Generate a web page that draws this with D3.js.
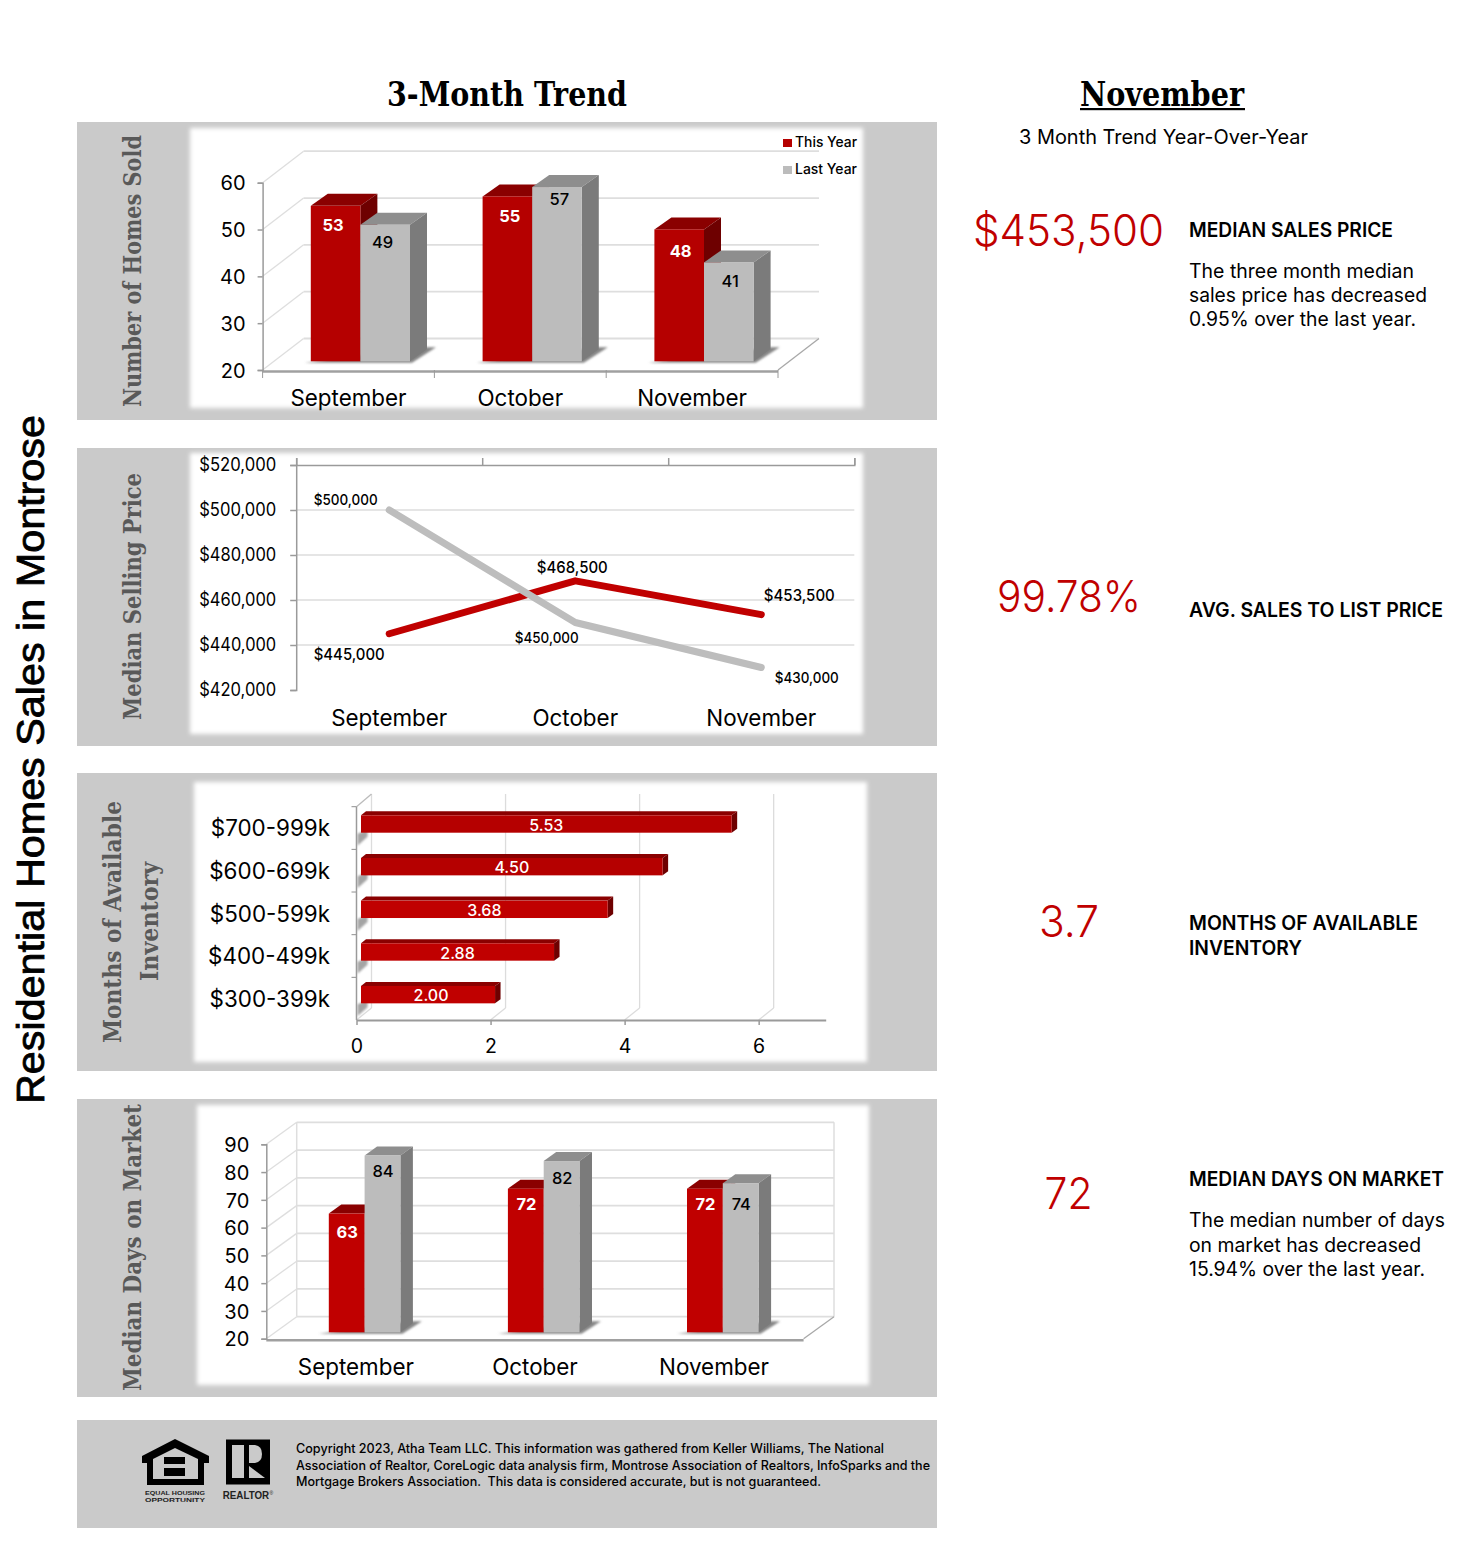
<!DOCTYPE html>
<html><head><meta charset="utf-8">
<script src="https://cdn.jsdelivr.net/npm/d3@7"></script>
<style>html,body{margin:0;padding:0;background:#fff}svg{display:block}text{white-space:pre}</style></head>
<body><svg id="c" width="1476" height="1558"></svg>
<script>
const months=["September","October","November"];
const soldThisYear=[53,55,48], soldLastYear=[49,57,41];
const soldTicks=[20,30,40,50,60];
const priceThisYear=[445000,468500,453500], priceLastYear=[500000,450000,430000];
const priceTicks=[420000,440000,460000,480000,500000,520000];
const inventoryBands=["$700-999k","$600-699k","$500-599k","$400-499k","$300-399k"];
const inventoryMonths=[5.53,4.50,3.68,2.88,2.00];
const inventoryTicks=[0,2,4,6];
const domThisYear=[63,72,72], domLastYear=[84,82,74];
const domTicks=[20,30,40,50,60,70,80,90];
const legendNames=["This Year","Last Year"];
const footerLines=["Copyright 2023, Atha Team LLC. This information was gathered from Keller Williams, The National",
"Association of Realtor, CoreLogic data analysis firm, Montrose Association of Realtors, InfoSparks and the",
"Mortgage Brokers Association.  This data is considered accurate, but is not guaranteed."];

const RED="#b50000",RED2="#c00000",GREY="#bcbcbc",SANS="Inter,'Noto Sans',sans-serif",SERIF="'DejaVu Serif',serif";
const svg=d3.select("#c");
const defs=svg.append("defs");
defs.append("filter").attr("id","soft").attr("x","-5%").attr("y","-5%").attr("width","110%").attr("height","110%")
  .append("feGaussianBlur").attr("stdDeviation",2.2);
defs.append("filter").attr("id","shadow").attr("x","-30%").attr("y","-100%").attr("width","160%").attr("height","300%")
  .append("feGaussianBlur").attr("stdDeviation",1.2);

function txt(g,x,y,s,o={}){
  const t=g.append("text").attr("x",x).attr("y",y).text(s)
    .attr("font-family",o.family||SANS).attr("font-size",o.size||16).attr("font-weight",o.weight||400)
    .attr("fill",o.fill||"#000").attr("text-anchor",o.anchor||"start");
  if(o.width) t.attr("textLength",o.width).attr("lengthAdjust","spacingAndGlyphs");
  if(o.rotate) t.attr("transform",`rotate(${o.rotate} ${x} ${y})`);
  return t;
}
function poly(g,pts,fill,extra){const p=g.append("polygon").attr("points",pts.map(d=>d.join(",")).join(" ")).attr("fill",fill);if(extra)p.attr("filter",extra);return p;}

// panels
const panels=[[122,298,190,128,673,280],[448,298,190,453,673,281],[773,298,194,782,673,280],[1099,298,197,1105,672,280]];
panels.forEach(p=>{
  svg.append("rect").attr("x",77).attr("y",p[0]).attr("width",860).attr("height",p[1]).attr("fill","#cacaca");
  svg.append("rect").attr("x",p[2]).attr("y",p[3]).attr("width",p[4]).attr("height",p[5]).attr("fill","#fff").attr("filter","url(#soft)");
});
svg.append("rect").attr("x",77).attr("y",1420).attr("width",860).attr("height",108).attr("fill","#cacaca");

// headings
txt(svg,507,106,"3-Month Trend",{family:SERIF,size:34,weight:700,anchor:"middle",width:240});
txt(svg,1162,106,"November",{family:SERIF,size:34,weight:700,anchor:"middle",width:164});
svg.append("rect").attr("x",1080).attr("y",108).attr("width",165).attr("height",2.2).attr("fill","#000");
txt(svg,1019,144,"3 Month Trend Year-Over-Year",{size:20,width:289});
txt(svg,44,1104,"Residential Homes Sales in Montrose",{family:"'Liberation Sans',sans-serif",size:39,weight:400,rotate:-90,width:689}).attr("stroke","#000").attr("stroke-width",.8);

// axis titles
const TT={family:SERIF,size:25,weight:700,fill:"#595959",rotate:-90};
txt(svg,141,407,"Number of Homes Sold",{...TT,width:272});
txt(svg,141,720,"Median Selling Price",{...TT,width:247});
txt(svg,121,1043,"Months of Available",{...TT,width:242});
txt(svg,158,981,"Inventory",{...TT,width:119});
txt(svg,141,1391,"Median Days on Market",{...TT,width:287});

function styleAxis(a,size,color){
  a.selectAll("text").attr("font-family",SANS).attr("font-size",size).attr("fill","#000");
  a.selectAll("line,path").attr("stroke",color||"#9a9a9a").attr("stroke-width",1.5);
}

// 3D column chart
function columns(o){
  const g=svg.append("g");
  const x=d3.scaleBand().domain(months).range([o.x0,o.x1]);
  const y=d3.scaleLinear().domain(o.dom).range([o.yBase,o.yTop]);
  const yb=d3.scaleLinear().domain(o.dom).range([o.barBase,o.barBase-(o.dom[1]-o.dom[0])*o.barUnit]);
  const [dx,dy]=o.depth, W="#dedede";
  o.ticks.forEach(t=>{
    const yy=y(t);
    g.append("line").attr("x1",o.x0).attr("y1",yy).attr("x2",o.x0+dx).attr("y2",yy+dy).attr("stroke",W).attr("stroke-width",1.3);
    g.append("line").attr("x1",o.x0+dx).attr("y1",yy+dy).attr("x2",o.x1+dx).attr("y2",yy+dy).attr("stroke",W).attr("stroke-width",1.8);
  });
  if(o.frame){
    g.append("line").attr("x1",o.x0+dx).attr("y1",y(o.dom[1])+dy).attr("x2",o.x0+dx).attr("y2",y(o.dom[0])+dy).attr("stroke",W).attr("stroke-width",1.5);
    g.append("line").attr("x1",o.x1+dx).attr("y1",y(o.dom[1])+dy).attr("x2",o.x1+dx).attr("y2",y(o.dom[0])+dy).attr("stroke",W).attr("stroke-width",1.5);
  }
  g.append("line").attr("x1",o.x1).attr("y1",y(o.dom[0])).attr("x2",o.x1+dx).attr("y2",y(o.dom[0])+dy).attr("stroke","#a8a8a8").attr("stroke-width",1.3);
  g.append("line").attr("x1",o.x0).attr("y1",y(o.dom[0])+1.5).attr("x2",o.x1).attr("y2",y(o.dom[0])+1.5).attr("stroke","#a0a0a0").attr("stroke-width",2.5);
  const ax=g.append("g").attr("transform",`translate(${o.x0},0)`).call(d3.axisLeft(y).tickValues(o.ticks).tickSize(5).tickPadding(o.pad).tickFormat(d3.format("d")));
  styleAxis(ax,o.tickSize);
  ax.selectAll("text").attr("dy",".36em");
  if(o.catTicks) x.domain().concat(["end"]).forEach((m,i)=>{const xx=o.x0+i*x.bandwidth();
    g.append("line").attr("x1",xx).attr("y1",y(o.dom[0])).attr("x2",xx).attr("y2",y(o.dom[0])+8).attr("stroke","#9a9a9a").attr("stroke-width",1);});
  months.forEach((m,i)=>{
    const bx=x(m)+o.barOff, w=o.barW, [bdx,bdy]=o.barDepth, base=o.barBase;
    poly(g,[[bx-o.shadow,base+1.5],[bx+2*w+2,base+1.5],[bx+2*w+bdx+9,base+bdy-2],[bx+2*w+bdx,base+bdy-2]],"#858585","url(#shadow)");
    [[o.a[i],o.cols[0],0],[o.b[i],o.cols[1],1]].forEach(([v,c,k])=>{
      const l=bx+k*w,t=yb(v);
      poly(g,[[l,t],[l+bdx,t+bdy],[l+w+bdx,t+bdy],[l+w,t]],c.top);
      poly(g,[[l+w,t],[l+w+bdx,t+bdy],[l+w+bdx,base+bdy],[l+w,base]],c.side);
      g.append("rect").attr("x",l).attr("y",t).attr("width",w).attr("height",yb(o.dom[0])-t).attr("fill",c.front);
    });
    [[o.a[i],"#fff",0,700],[o.b[i],"#000",1,500]].forEach(([v,f,k,wt])=>{
      const off=(o.labelOff&&o.labelOff[v])||o.labelDy;
      txt(g,bx+k*w+o.labelX+(o.labelShift?o.labelShift[i]:0),yb(v)+off+6,v,{size:o.labelSize,weight:wt,fill:f,anchor:"middle"});
    });
    txt(g,x(m)+x.bandwidth()/2,o.catY,m,{size:o.catSize,anchor:"middle"});
  });
  return g;
}
const colR={front:RED,top:"#8a0000",side:"#6e0000"},colG={front:GREY,top:"#8e8e8e",side:"#7b7b7b"};
columns({x0:262.6,x1:778,yBase:370,yTop:182.7,dom:[20,60],ticks:soldTicks,depth:[41,-31.5],pad:12,tickSize:20,
  barBase:361.3,barUnit:4.71,barOff:48.2,barW:49.6,barDepth:[17,-12],a:soldThisYear,b:soldLastYear,cols:[colR,colG],
  labelDy:18,labelOff:{53:19,55:20,57:12,49:17,48:22,41:19},labelX:22.2,labelShift:[0,5,4],labelSize:16.5,catY:406,catSize:22.4,catTicks:true,shadow:6});
const colR2={front:RED2,top:"#8a0000",side:"#6e0000"};
columns({x0:266.3,x1:803.6,yBase:1338.7,yTop:1144.3,dom:[20,90],ticks:domTicks,depth:[30.4,-22],pad:12,tickSize:20,frame:true,
  barBase:1332.3,barUnit:2.762,barOff:62.5,barW:35.8,barDepth:[12.5,-9],a:domThisYear,b:domLastYear,cols:[colR2,colG],
  labelDy:17,labelOff:{63:18,84:15,72:15,82:17,74:21},labelX:18.5,labelSize:16.5,catY:1375,catSize:22.4,shadow:10});

// legend
[[139,RED],[166,"#bcbcbc"]].forEach((d,i)=>{
  svg.append("rect").attr("x",783).attr("y",d[0]).attr("width",9).attr("height",8).attr("fill",d[1]);
  txt(svg,795,d[0]+8,legendNames[i],{size:14,weight:500,width:62});
});

// line chart
(function(){
  const g=svg.append("g");
  const x=d3.scaleBand().domain(months).range([296.2,854.3]);
  const y=d3.scaleLinear().domain([420000,520000]).range([690,465]);
  priceTicks.slice(1,5).forEach(t=>g.append("line").attr("x1",296).attr("x2",854.3).attr("y1",y(t)).attr("y2",y(t)).attr("stroke","#dcdcdc").attr("stroke-width",1.3));
  const ax=g.append("g").attr("transform","translate(296.2,0)").call(d3.axisLeft(y).tickValues(priceTicks).tickSize(6).tickPadding(14).tickFormat(d3.format("$,")));
  styleAxis(ax,18); ax.selectAll("text").attr("dy",".3em").attr("textLength",77).attr("lengthAdjust","spacingAndGlyphs");
  const tickX=[296.2,482.2,668.2,854.3];
  const top=g.append("g").attr("transform","translate(0,465)").call(d3.axisTop(d3.scaleIdentity().domain([296.2,854.3])).tickValues(tickX).tickSize(7).tickFormat(""));
  styleAxis(top,10);
  const line=d3.line().x((d,i)=>x(months[i])+x.bandwidth()/2).y(d=>y(d));
  g.append("path").attr("d",line(priceThisYear)).attr("fill","none").attr("stroke",RED2).attr("stroke-width",7).attr("stroke-linecap","round").attr("stroke-linejoin","round");
  g.append("path").attr("d",line(priceLastYear)).attr("fill","none").attr("stroke","#bdbdbd").attr("stroke-width",7).attr("stroke-linecap","round").attr("stroke-linejoin","round");
  months.forEach(m=>txt(g,x(m)+x.bandwidth()/2,726,m,{size:22.4,anchor:"middle"}));
  const cx=i=>x(months[i])+x.bandwidth()/2;
  [[0,-43.5,y(priceLastYear[0])-5],[1,-28.5,y(priceLastYear[1])+20],[2,45.5,y(priceLastYear[2])+15]].forEach(d=>
    txt(g,cx(d[0])+d[1],d[2],d3.format("$,")(priceLastYear[d[0]]),{size:15,weight:500,anchor:"middle",width:64}));
  [[0,-40,y(priceThisYear[0])+26],[1,-3,y(priceThisYear[1])-8],[2,38,y(priceThisYear[2])-14]].forEach(d=>
    txt(g,cx(d[0])+d[1],d[2],d3.format("$,")(priceThisYear[d[0]]),{size:16.5,weight:500,anchor:"middle",width:71}));
})();

// horizontal bars
(function(){
  const g=svg.append("g");
  const x=d3.scaleLinear().domain([0,7]).range([356.5,825.7]);
  const y=d3.scaleBand().domain(inventoryBands).range([806.7,1020]);
  const dx=15,dy=-12,base=1020;
  inventoryTicks.forEach(t=>{
    if(t===0) return;
    g.append("line").attr("x1",x(t)).attr("y1",base).attr("x2",x(t)+dx).attr("y2",base+dy).attr("stroke","#dcdcdc").attr("stroke-width",1.3);
    g.append("line").attr("x1",x(t)+dx).attr("y1",base+dy).attr("x2",x(t)+dx).attr("y2",794).attr("stroke","#dcdcdc").attr("stroke-width",1.3);
  });
  g.append("line").attr("x1",x(0)+dx).attr("y1",base+dy).attr("x2",x(0)+dx).attr("y2",794).attr("stroke","#dcdcdc").attr("stroke-width",1.3);
  g.append("line").attr("x1",x(0)).attr("y1",806.7).attr("x2",x(0)+dx).attr("y2",794).attr("stroke","#bbb").attr("stroke-width",1.3);
  g.append("line").attr("x1",x(0)).attr("y1",base).attr("x2",x(0)+dx).attr("y2",base+dy).attr("stroke","#dcdcdc").attr("stroke-width",1.3);
  inventoryBands.forEach((b,i)=>{
    const t=y(b)+8.6,h=17.4,l=x(0)+4.5,r=l+inventoryMonths[i]*(x(1)-x(0));
    poly(g,[[x(0)+1,t+h+1],[x(0)+1,t+h+13],[x(0)+11,t+h+4],[x(0)+11,t+h-3]],"#a4a4a4","url(#shadow)");
    poly(g,[[l,t],[l+5,t-4],[r+5.5,t-4],[r,t]],"#8a0000");
    poly(g,[[r,t],[r+5.5,t-4],[r+5.5,t+h-4],[r,t+h]],"#6e0000");
    g.append("rect").attr("x",l).attr("y",t).attr("width",r-l).attr("height",h).attr("fill",i<2?RED:RED2);
    txt(g,(l+r)/2+(i===4?3:0),t+h-2,d3.format(".2f")(inventoryMonths[i]),{size:16,weight:500,fill:"#fff",anchor:"middle"});
    txt(g,330,y(b)+29.5,b,{size:22.4,anchor:"end"});
    g.append("line").attr("x1",x(0)-5).attr("x2",x(0)).attr("y1",y(b)).attr("y2",y(b)).attr("stroke","#8f8f8f").attr("stroke-width",1);
  });
  g.append("line").attr("x1",x(0)).attr("x2",x(0)).attr("y1",806.7).attr("y2",base).attr("stroke","#9a9a9a").attr("stroke-width",1.5);
  const ax=g.append("g").attr("transform",`translate(0,${base})`).call(d3.axisBottom(x).tickValues(inventoryTicks).tickSize(5).tickSizeOuter(0).tickPadding(14).tickFormat(d3.format("d")));
  styleAxis(ax,19.5); ax.select(".domain").attr("stroke-width",2);
})();

// right column
const big={size:44,weight:300,fill:"#c00000",anchor:"middle"};
txt(svg,1068.5,246,"$453,500",{...big,width:191});
txt(svg,1069,612,"99.78%",{...big,width:144});
txt(svg,1069,937,"3.7",{...big,width:60});
txt(svg,1068.5,1209,"72",{...big,width:48});
const H={size:20,weight:600},B={size:19.4};
txt(svg,1189,237,"MEDIAN SALES PRICE",{...H,width:204});
["The three month median","sales price has decreased","0.95% over the last year."].forEach((s,i)=>txt(svg,1189,278+i*24.2,s,{...B,width:[225,238,227][i]}));
txt(svg,1189,617,"AVG. SALES TO LIST PRICE",{...H,width:254});
txt(svg,1189,930,"MONTHS OF AVAILABLE",{...H,width:229});
txt(svg,1189,955,"INVENTORY",{...H,width:113});
txt(svg,1189,1186,"MEDIAN DAYS ON MARKET",{...H,width:255});
["The median number of days","on market has decreased","15.94% over the last year."].forEach((s,i)=>txt(svg,1189,1227+i*24.5,s,{...B,width:[256,232,236][i]}));

// footer
footerLines.forEach((s,i)=>txt(svg,296,1453+i*16.5,s,{size:12.7,weight:500,width:[588,634,525][i]}));
const logo=svg.append("g");
poly(logo,[[175,1439],[209,1456],[209,1463],[204,1463],[204,1485],[147,1485],[147,1463],[142,1463],[142,1456]],"#000");
poly(logo,[[175,1448],[198,1459],[198,1479],[153,1479],[153,1459]],"#cacaca");
logo.append("rect").attr("x",164).attr("y",1457).attr("width",21).attr("height",7).attr("fill","#000");
logo.append("rect").attr("x",164).attr("y",1468).attr("width",21).attr("height",8).attr("fill","#000");
txt(logo,175,1495,"EQUAL HOUSING",{size:6.2,weight:700,anchor:"middle",family:"'Liberation Sans'",width:60,fill:"#222"});
txt(logo,175,1502,"OPPORTUNITY",{size:6.2,weight:700,anchor:"middle",family:"'Liberation Sans'",width:60,fill:"#222"});
logo.append("rect").attr("x",226).attr("y",1439.5).attr("width",44).attr("height",45).attr("fill","#000");
logo.append("rect").attr("x",232).attr("y",1445).attr("width",12).attr("height",33).attr("fill","#cacaca");
logo.append("path").attr("d","M249 1445 H255 Q262 1446 262 1454 Q262 1462 255 1463 H249 Z").attr("fill","#cacaca");
logo.append("path").attr("d","M249 1466 L249 1478 H265 Z").attr("fill","#cacaca");
txt(logo,222.7,1499,"REALTOR",{size:10,weight:700,family:"'Liberation Sans'",width:46.5,fill:"#222"});
txt(logo,269.5,1495,"®",{size:5,family:"'Liberation Sans'",fill:"#222"});
</script></body></html>
